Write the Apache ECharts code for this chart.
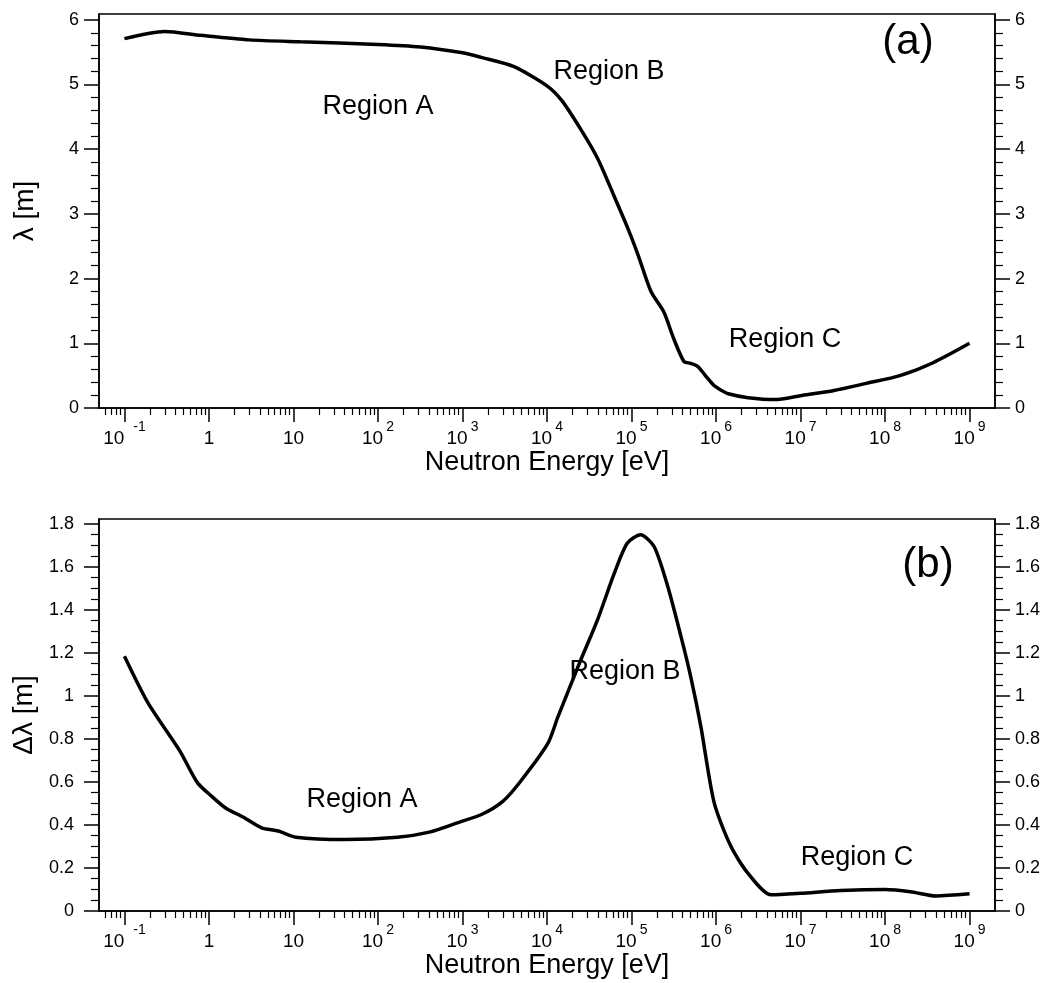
<!DOCTYPE html>
<html>
<head>
<meta charset="utf-8">
<script src="https://cdn.jsdelivr.net/npm/echarts@6/dist/echarts.min.js"></script>
<style>
html,body{margin:0;padding:0;background:#fff;}
#chart{width:1049px;height:983px;}
</style>
</head>
<body>
<div id="chart"></div>
<script>
// ---- data (panel a) ----
const energyA = [0.1, 0.3, 0.8, 3, 12, 100, 320, 1000, 1660, 4000, 10000, 15000, 25000, 40000, 62000, 91000, 120000, 170000, 240000, 316000, 417000, 500000, 610000, 760000, 940000, 1.1e6, 1.4e6, 2.4e6, 5e6, 1e7, 2.5e7, 6e7, 1.5e8, 3.7e8, 1e9];
const lambdaA = [5.71, 5.82, 5.76, 5.69, 5.66, 5.62, 5.58, 5.49, 5.42, 5.28, 4.98, 4.75, 4.31, 3.85, 3.28, 2.77, 2.36, 1.80, 1.49, 1.07, 0.72, 0.69, 0.64, 0.49, 0.35, 0.29, 0.22, 0.16, 0.13, 0.19, 0.27, 0.38, 0.50, 0.70, 1.0];
// ---- data (panel b) ----
const energyB = [0.1, 0.19, 0.45, 0.73, 1.08, 1.59, 2.56, 4.2, 6.6, 10.7, 41, 170, 405, 870, 1700, 3000, 4800, 10200, 13400, 25000, 39500, 62500, 89000, 128000, 185000, 268000, 384000, 500000, 660000, 950000, 1.49e6, 2.34e6, 4.5e6, 1e7, 3e7, 1e8, 2e8, 4e8, 1e9];
const deltaB = [1.185, 0.968, 0.746, 0.597, 0.533, 0.478, 0.436, 0.387, 0.372, 0.343, 0.332, 0.343, 0.367, 0.41, 0.45, 0.51, 0.60, 0.778, 0.90, 1.166, 1.353, 1.57, 1.71, 1.75, 1.695, 1.51, 1.278, 1.092, 0.86, 0.504, 0.303, 0.18, 0.075, 0.082, 0.095, 0.10, 0.09, 0.07, 0.08];
// ---- ticks ----
const xTickExponents = [-1, 0, 1, 2, 3, 4, 5, 6, 7, 8, 9];
const yTicksA = [0, 1, 2, 3, 4, 5, 6];
const yTicksB = [0, 0.2, 0.4, 0.6, 0.8, 1, 1.2, 1.4, 1.6, 1.8];
const xMin = 0.05, xMax = 2e9;
const yMaxA = 6.09, yMaxB = 1.823;

const FONT = "'Liberation Sans', Arial, Helvetica, sans-serif";
const lxMin = Math.log10(xMin), lxMax = Math.log10(xMax);

const xMinor = [];
for (let n = -2; n <= 9; n++) {
  for (let k = 2; k <= 9; k++) {
    const v = n + Math.log10(k);
    if (v > lxMin && v < lxMax) xMinor.push(v);
  }
}
function minorVals(max, step, majorStep) {
  const out = [];
  for (let i = 1; i * step < max; i++) {
    const v = Math.round(i * step * 1000) / 1000;
    if (Math.abs(v / majorStep - Math.round(v / majorStep)) > 1e-6) out.push(v);
  }
  return out;
}
const yMinorA = minorVals(6.0001, 0.2, 1);
const yMinorB = minorVals(1.8001, 0.05, 0.2);

function xLabel(v) {
  const e = Math.round(v);
  if (e === 0) return '{n|1}';
  if (e === 1) return '{n|10}';
  return '{n|10}{' + (e < 0 ? 'supw' : 'sup') + '|' + e + '}';
}

const grids = [
  {left: 99, right: 54, top: 14, height: 394},
  {left: 99, right: 54, top: 519, height: 392}
];

const xAxes = [], yAxes = [], series = [];
const panels = [
  {E: energyA, Y: lambdaA, yMax: yMaxA, yTicks: yTicksA, yMinor: yMinorA, yName: 'λ [m]', xNameGap: 32, yLabelMargin: 20},
  {E: energyB, Y: deltaB, yMax: yMaxB, yTicks: yTicksB, yMinor: yMinorB, yName: 'Δλ [m]', xNameGap: 35, yLabelMargin: 25}
];
panels.forEach((p, gi) => {
  const xi = xAxes.length;
  xAxes.push({type: 'log', logBase: 10, gridIndex: gi, min: xMin, max: xMax, show: false});
  xAxes.push({
    type: 'value', gridIndex: gi, min: lxMin, max: lxMax, position: 'bottom',
    name: 'Neutron Energy [eV]', nameLocation: 'middle', nameGap: p.xNameGap,
    nameTextStyle: {fontFamily: FONT, fontSize: 27, color: '#000'},
    axisLine: {show: true, onZero: false, lineStyle: {color: '#000', width: 1.5}},
    axisTick: {show: true, inside: false, length: 14, customValues: xTickExponents, lineStyle: {color: '#000', width: 1.5}},
    axisLabel: {
      show: true, customValues: xTickExponents, margin: 12, formatter: xLabel,
      rich: {
        n: {fontFamily: FONT, fontSize: 19, color: '#000', lineHeight: 28, verticalAlign: 'bottom'},
        sup: {fontFamily: FONT, fontSize: 14, color: '#000', verticalAlign: 'top', padding: [0, 0, 0, 3]},
        supw: {fontFamily: FONT, fontSize: 14, color: '#000', verticalAlign: 'top', padding: [0, 0, 0, 9]}
      }
    },
    splitLine: {show: false}
  });
  xAxes.push({
    type: 'value', gridIndex: gi, min: lxMin, max: lxMax, position: 'bottom',
    axisLine: {show: false, onZero: false},
    axisTick: {show: true, inside: false, length: 7, customValues: xMinor, lineStyle: {color: '#000', width: 1.2}},
    axisLabel: {show: false}, splitLine: {show: false}
  });
  const yi = yAxes.length;
  const lblStyle = {fontFamily: FONT, fontSize: 18, color: '#000'};
  yAxes.push({
    type: 'value', gridIndex: gi, min: 0, max: p.yMax, position: 'left',
    name: p.yName, nameLocation: 'middle', nameGap: 60, nameRotate: 90,
    nameTextStyle: {fontFamily: FONT, fontSize: 28, color: '#000'},
    axisLine: {show: true, onZero: false, lineStyle: {color: '#000', width: 1.5}},
    axisTick: {show: true, inside: false, length: 15, customValues: p.yTicks, lineStyle: {color: '#000', width: 1.5}},
    axisLabel: Object.assign({customValues: p.yTicks, margin: p.yLabelMargin}, lblStyle),
    splitLine: {show: false}
  });
  yAxes.push({
    type: 'value', gridIndex: gi, min: 0, max: p.yMax, position: 'left',
    axisLine: {show: false, onZero: false},
    axisTick: {show: true, inside: false, length: 8, customValues: p.yMinor, lineStyle: {color: '#000', width: 1.2}},
    axisLabel: {show: false}, splitLine: {show: false}
  });
  yAxes.push({
    type: 'value', gridIndex: gi, min: 0, max: p.yMax, position: 'right',
    axisLine: {show: true, onZero: false, lineStyle: {color: '#000', width: 1.5}},
    axisTick: {show: true, inside: false, length: 15, customValues: p.yTicks, lineStyle: {color: '#000', width: 1.5}},
    axisLabel: Object.assign({customValues: p.yTicks, margin: 20}, lblStyle),
    splitLine: {show: false}
  });
  yAxes.push({
    type: 'value', gridIndex: gi, min: 0, max: p.yMax, position: 'right',
    axisLine: {show: false, onZero: false},
    axisTick: {show: true, inside: false, length: 8, customValues: p.yMinor, lineStyle: {color: '#000', width: 1.2}},
    axisLabel: {show: false}, splitLine: {show: false}
  });
  series.push({
    type: 'line', xAxisIndex: xi, yAxisIndex: yi,
    data: p.E.map((e, i) => [e, p.Y[i]]),
    symbol: 'none', smooth: 0.25,
    lineStyle: {color: '#000', width: 3.5},
    silent: true, animation: false
  });
});

function txt(x, y, s, size) {
  return {type: 'text', x: x, y: y, style: {text: s, font: size + 'px ' + FONT, fill: '#000', align: 'center', verticalAlign: 'middle'}};
}

const chart = echarts.init(document.getElementById('chart'), null, {renderer: 'canvas'});
chart.setOption({
  animation: false,
  backgroundColor: '#fff',
  grid: grids.map(g => Object.assign({show: true, borderColor: '#000', borderWidth: 1.5, backgroundColor: 'transparent'}, g)),
  xAxis: xAxes,
  yAxis: yAxes,
  series: series,
  graphic: [
    txt(378, 107, 'Region A', 27),
    txt(609, 72, 'Region B', 27),
    txt(785, 340, 'Region C', 27),
    txt(908, 42, '(a)', 42),
    txt(362, 800, 'Region A', 27),
    txt(625, 672, 'Region B', 27),
    txt(857, 858, 'Region C', 27),
    txt(928, 565, '(b)', 42)
  ]
});
</script>
</body>
</html>
